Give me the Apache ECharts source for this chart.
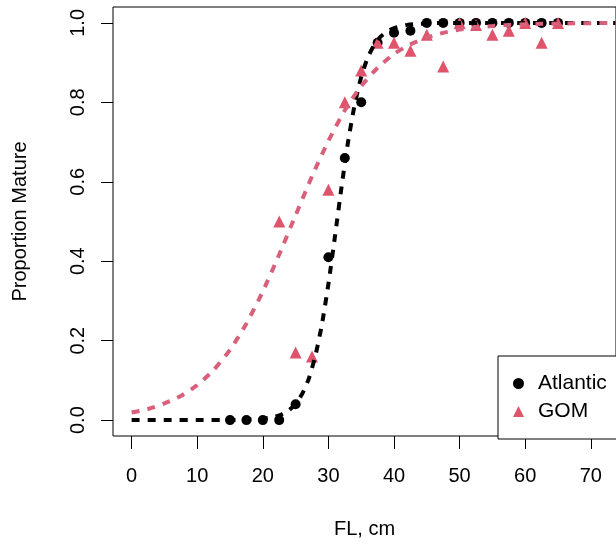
<!DOCTYPE html>
<html><head><meta charset="utf-8">
<script src="https://cdn.jsdelivr.net/npm/echarts@6/dist/echarts.min.js"></script>
<style>html,body{margin:0;padding:0;background:#fff}#c{width:616px;height:544px}</style>
</head><body><div id="c"></div>
<script>
// Observed proportions mature by fork length (cm)
const atlanticLen  = [15, 17.5, 20, 22.5, 25, 30, 32.5, 35, 37.5, 40, 42.5, 45, 47.5, 50, 52.5, 55, 57.5, 60, 62.5, 65];
const atlanticProp = [0, 0, 0, 0, 0.04, 0.41, 0.66, 0.80, 0.95, 0.975, 0.98, 1, 1, 1, 1, 1, 1, 1, 1, 1];
const gomLen  = [22.5, 25, 27.5, 30, 32.5, 35, 37.5, 40, 42.5, 45, 47.5, 50, 52.5, 55, 57.5, 60, 62.5, 65];
const gomProp = [0.50, 0.17, 0.16, 0.58, 0.80, 0.88, 0.95, 0.95, 0.93, 0.97, 0.89, 1.0, 0.995, 0.97, 0.98, 1.0, 0.95, 1.0];

// Fitted curves
const atlanticFitLen  = [0, 5, 10, 15, 18, 20, 21, 22, 23, 24, 25, 26, 27, 28, 29, 30, 31, 32, 33, 34, 35, 36, 37, 38, 39, 40, 42, 44, 46, 50, 55, 60, 65, 70, 75];
const atlanticFitProp = [0, 0, 0, 0.0003, 0.0013, 0.0035, 0.006, 0.0095, 0.0155, 0.025, 0.041, 0.066, 0.104, 0.161, 0.240, 0.343, 0.463, 0.587, 0.701, 0.794, 0.864, 0.913, 0.945, 0.966, 0.979, 0.987, 0.995, 0.998, 0.9994, 0.9999, 1, 1, 1, 1, 1];
const gomFitLen  = [0, 2.5, 5, 7.5, 10, 12.5, 15, 17.5, 20, 22.5, 25, 27.5, 30, 32.5, 35, 37.5, 40, 42.5, 45, 47.5, 50, 52.5, 55, 57.5, 60, 62.5, 65, 67.5, 70, 72.5, 75];
const gomFitProp = [0.019, 0.028, 0.042, 0.061, 0.088, 0.126, 0.177, 0.243, 0.324, 0.417, 0.516, 0.614, 0.703, 0.780, 0.841, 0.887, 0.922, 0.946, 0.963, 0.975, 0.983, 0.989, 0.992, 0.995, 0.9965, 0.9977, 0.9984, 0.999, 0.9993, 0.9995, 0.9997];

const xTicks = [0, 10, 20, 30, 40, 50, 60, 70];
const yTicks = [0, 0.2, 0.4, 0.6, 0.8, 1.0];

const zip = (a, b) => a.map((v, i) => [v, b[i]]);
const FONT = 'Liberation Sans, Arial, sans-serif';
const PINK = '#DF536B';

const chart = echarts.init(document.getElementById('c'), null, {renderer: 'canvas'});
chart.setOption({
  animation: false,
  backgroundColor: '#fff',
  grid: {left: 113, top: 7, bottom: 107, right: -11, show: true, borderColor: '#000', borderWidth: 1, backgroundColor: 'transparent', containLabel: false},
  xAxis: {
    type: 'value', min: -2.84, max: 73.84,
    name: 'FL, cm', nameLocation: 'middle', nameGap: 83,
    nameTextStyle: {fontSize: 20, color: '#000', fontFamily: FONT},
    axisLine: {show: false, onZero: false},
    axisTick: {show: true, length: 13, customValues: xTicks, lineStyle: {color: '#000', width: 1}},
    axisLabel: {customValues: xTicks, margin: 30, fontSize: 20, color: '#000', fontFamily: FONT},
    splitLine: {show: false}
  },
  yAxis: {
    type: 'value', min: -0.04, max: 1.04,
    name: 'Proportion Mature', nameLocation: 'middle', nameGap: 83, nameRotate: 90,
    nameTextStyle: {fontSize: 20, color: '#000', fontFamily: FONT},
    axisLine: {show: false, onZero: false},
    axisTick: {show: true, length: 12, customValues: yTicks, lineStyle: {color: '#000', width: 1}},
    axisLabel: {customValues: yTicks, rotate: 90, margin: 25, fontSize: 20, color: '#000', fontFamily: FONT,
      formatter: v => Number(v).toFixed(1)},
    splitLine: {show: false}
  },
  legend: {
    data: [{name: 'Atlantic', icon: 'circle'}, {name: 'GOM', icon: 'triangle'}],
    orient: 'vertical', left: 498, top: 356,
    padding: [17, 40, 17, 15], itemWidth: 11, itemHeight: 11, itemGap: 7,
    borderColor: '#000', borderWidth: 1, borderRadius: 0, backgroundColor: '#fff',
    formatter: '{t|{name}}',
    textStyle: {fontSize: 21, color: '#000', fontFamily: FONT,
      rich: {t: {fontSize: 21, color: '#000', fontFamily: FONT, padding: [0, 0, 0, 9]}}},
    itemStyle: {opacity: 1},
    selectedMode: false
  },
  series: [
    {name: 'Atlantic', type: 'scatter', data: zip(atlanticLen, atlanticProp), symbol: 'circle', symbolSize: 10,
      itemStyle: {color: '#000', opacity: 1}, z: 2},
    {name: 'GOM', type: 'scatter', data: zip(gomLen, gomProp), symbol: 'triangle', symbolSize: 12,
      itemStyle: {color: PINK, opacity: 1}, z: 3},
    {name: 'Atlantic fit', type: 'line', data: zip(atlanticFitLen, atlanticFitProp), showSymbol: false, symbol: 'none',
      smooth: 0.2, clip: true, silent: true,
      lineStyle: {color: '#000', width: 4, type: [8, 8]}, z: 4},
    {name: 'GOM fit', type: 'line', data: zip(gomFitLen, gomFitProp), showSymbol: false, symbol: 'none',
      smooth: 0.2, clip: true, silent: true,
      lineStyle: {color: '#d9607a', width: 4, type: [8, 8]}, z: 5}
  ]
});
</script>
</body></html>
